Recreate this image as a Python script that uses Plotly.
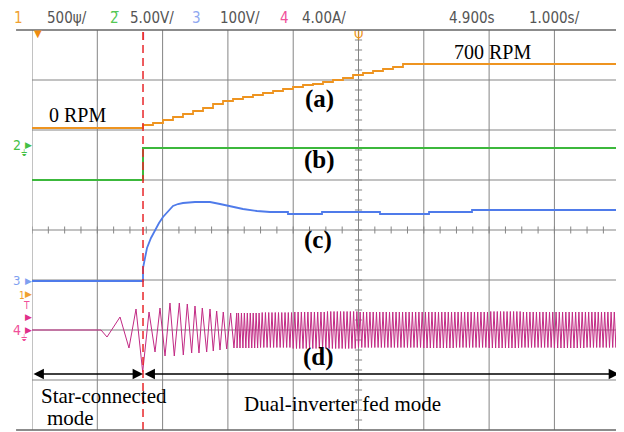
import plotly.graph_objects as go

# ---------------- data (screen divisions; x: 1.000 s/div from left edge) -------------
switch_t = 1.70  # star -> dual-inverter switching instant

speed_t = [0, 1.654, 1.700, 1.853, 2.006, 2.159, 2.312, 2.466, 2.619, 2.772, 2.925, 3.078,
           3.231, 3.384, 3.537, 3.691, 3.844, 3.997, 4.150, 4.303, 4.456, 4.609, 4.762,
           4.916, 5.069, 5.222, 5.375, 5.528, 5.681, 9.035]
speed_v = [6.04, 6.04, 6.10, 6.14, 6.20, 6.26, 6.32, 6.38, 6.44, 6.52, 6.58, 6.62, 6.66,
           6.70, 6.74, 6.78, 6.82, 6.86, 6.90, 6.92, 6.96, 7.00, 7.04, 7.10, 7.14, 7.18,
           7.22, 7.26, 7.32, 7.32]

gate_t = [0, 1.700, 1.700, 9.035]
gate_v = [5.00, 5.00, 5.64, 5.64]

dc_t = [0, 1.700, 1.700, 1.761, 1.822, 1.884, 1.945, 2.006, 2.083, 2.159, 2.236, 2.312,
        2.496, 2.726, 2.879, 3.063, 3.231, 3.445, 3.645, 3.920, 3.920, 4.441, 4.441,
        5.329, 5.329, 6.080, 6.080, 6.738, 6.738, 9.035]
dc_v = [2.98, 2.98, 3.24, 3.64, 3.84, 4.00, 4.14, 4.26, 4.36, 4.48, 4.52, 4.54, 4.56,
        4.56, 4.52, 4.46, 4.42, 4.38, 4.36, 4.36, 4.32, 4.32, 4.36, 4.36, 4.32, 4.32,
        4.36, 4.36, 4.40, 4.40]

cur_t = [0, 1.057, 1.149, 1.348, 1.485, 1.593, 1.695, 1.792, 1.884, 1.960, 2.037, 2.113,
         2.179, 2.256, 2.317, 2.378, 2.445, 2.496, 2.557, 2.608, 2.675, 2.726, 2.776,
         2.828, 2.879, 2.929, 2.981, 3.042, 3.093, 3.135]
cur_v = [2.00, 2.00, 1.86, 2.26, 1.64, 2.42, 1.16, 2.36, 1.56, 2.44, 1.48, 2.54, 1.48,
         2.54, 1.50, 2.52, 1.54, 2.48, 1.54, 2.44, 1.56, 2.42, 1.58, 2.38, 1.60, 2.36,
         1.62, 2.34, 1.64, 2.34]

# steady-state current band: segment edges, upper / lower peaks per segment
band_edges = [3.14, 3.5, 4.0, 4.5, 5.0, 5.5, 6.0, 6.5, 7.0, 7.5, 8.0, 8.5, 9.04]
band_hi = [2.34, 2.35, 2.36, 2.37, 2.36, 2.36, 2.36, 2.36, 2.37, 2.36, 2.36, 2.36]
band_lo = [1.64, 1.65, 1.63, 1.63, 1.65, 1.65, 1.64, 1.65, 1.64, 1.65, 1.64, 1.65]
band_cycles_per_div = 21

header_items = [("1", "#F0A030"), ("500ψ/", "#555555"), ("2\u0305", "#55C855"),
                ("5.00V/", "#555555"), ("3", "#8FA8F0"), ("100V/", "#555555"),
                ("4", "#F0509A"), ("4.00A/", "#555555"), ("4.900s", "#555555"),
                ("1.000s/", "#555555")]

# ---------------- build figure ----------------
X0, X1 = 0, 9.035
YMAX = 8
fig = go.Figure()

# grid
gx, gy = [], []
for k in range(10):
    gx += [k, k, None]
    gy += [0, YMAX, None]
for k in range(1, 8):
    gx += [X0, X1, None]
    gy += [k, k, None]
# centre-line minor ticks
for k in range(int(X1 * 4) + 1):
    x = k / 4
    gx += [x, x, None]
    gy += [4 - 0.07, 4 + 0.07, None]
for k in range(41):
    y = k / 5
    gx += [5 - 0.055, 5 + 0.055, None]
    gy += [y, y, None]
fig.add_trace(go.Scatter(x=gx, y=gy, mode="lines", line=dict(color="#858585", width=1),
                         hoverinfo="skip", showlegend=False))

# steady-state zigzag from the band table
zx, zy = [], []
for i in range(len(band_hi)):
    a, b = band_edges[i], band_edges[i + 1]
    n = max(1, round((b - a) * band_cycles_per_div))
    step = (b - a) / n
    for k in range(n):
        zx += [a + k * step, a + k * step + step / 2]
        zy += [band_lo[i], band_hi[i]]
cx = cur_t + zx
cy = cur_v + zy

fig.add_trace(go.Scatter(x=gate_t, y=gate_v, mode="lines",
                         line=dict(color="#3CB83C", width=2), showlegend=False))
fig.add_trace(go.Scatter(x=speed_t, y=speed_v, mode="lines", line_shape="hv",
                         line=dict(color="#EE9420", width=1.8), showlegend=False))
fig.add_trace(go.Scatter(x=dc_t, y=dc_v, mode="lines",
                         line=dict(color="#4F7BEA", width=1.8), showlegend=False))
fig.add_trace(go.Scatter(x=cx, y=cy, mode="lines",
                         line=dict(color="#C22A84", width=1), showlegend=False))

# red dashed switching line
fig.add_shape(type="line", x0=switch_t, x1=switch_t, y0=0, y1=YMAX, xref="x", yref="y",
              line=dict(color="#E8262A", width=1.5, dash="8px,5px"))
# frame lines top / bottom (extend a little left of the screen)
for yy in (0, 1):
    fig.add_shape(type="line", x0=-0.027, x1=1, y0=yy, y1=yy, xref="paper", yref="paper",
                  line=dict(color="#666666", width=1.5))

ann = []
serif = "Liberation Serif, Times New Roman, serif"
sans = "DejaVu Sans Condensed, Liberation Sans Narrow, Arial, sans-serif"


def txt(x, y, s, size=20, bold=False, color="black", font=serif, xa="center", ref="x"):
    if ref == "paper":
        x, y = x / X1, y / YMAX
        xr, yr = "paper", "paper"
    else:
        xr, yr = "x", "y"
    ann.append(dict(x=x, y=y, xref=xr, yref=yr, text=("<b>%s</b>" % s) if bold else s,
                    showarrow=False, xanchor=xa, yanchor="middle",
                    font=dict(family=font, size=size, color=color)))


txt(0.23, 6.30, "0 RPM", xa="left")
txt(6.43, 7.56, "700 RPM", xa="left")
txt(4.41, 6.63, "(a)", size=25, bold=True)
txt(4.41, 5.40, "(b)", size=25, bold=True)
txt(4.38, 3.80, "(c)", size=25, bold=True)
txt(4.38, 1.46, "(d)", size=25, bold=True)
txt(0.11, 0.68, "Star-connected", size=21, xa="left")
txt(0.20, 0.24, "mode", size=21, xa="left")
txt(3.22, 0.52, "Dual-inverter fed mode", size=21, xa="left")

# header (above the screen)
hx = [-0.31, 0.20, 1.16, 1.47, 2.42, 2.85, 3.77, 4.10, 6.355, 7.58]
for (s, c), x in zip(header_items, hx):
    txt(x, 8.24, s, size=15, color=c, font=sans, xa="left", ref="paper")

# top markers
txt(0.09, 7.93, "▼", size=10, color="#EE8C10", font="DejaVu Sans")
txt(switch_t, 7.88, "I", size=10, color="#E8262A", font="DejaVu Sans")
txt(5.0, 7.88, "Ψ", size=12, color="#EE9420", font="DejaVu Sans")

# left channel markers (outside the screen)
P = "paper"
txt(-0.23, 5.70, "2", size=14, color="#44C044", font=sans, ref=P)
txt(-0.05, 5.70, "▶", size=9, color="#44C044", font="DejaVu Sans", ref=P)
txt(-0.13, 5.55, "⏚", size=9, color="#44C044", font="DejaVu Sans", ref=P)
txt(-0.23, 3.00, "3", size=13, color="#7F9FF0", font=sans, ref=P)
txt(-0.05, 2.98, "▶", size=9, color="#7F9FF0", font="DejaVu Sans", ref=P)
txt(-0.16, 2.70, "1", size=10, color="#F0A030", font=sans, ref=P)
txt(-0.05, 2.72, "▶", size=9, color="#F0A030", font="DejaVu Sans", ref=P)
txt(-0.08, 2.50, "T", size=10, color="#F0509A", font=sans, ref=P)
txt(-0.05, 2.26, "▶", size=9, color="#E0308A", font="DejaVu Sans", ref=P)
txt(-0.23, 2.00, "4", size=14, color="#F0509A", font=sans, ref=P)
txt(-0.05, 2.00, "▶", size=9, color="#E0308A", font="DejaVu Sans", ref=P)
txt(-0.13, 1.84, "⏚", size=9, color="#F0509A", font="DejaVu Sans", ref=P)

# mode arrows
for a, b in ((0.0, switch_t), (switch_t, 8.99)):
    ann.append(dict(x=b, y=1.12, ax=a, ay=1.12, xref="x", yref="y", axref="x", ayref="y",
                    showarrow=True, arrowhead=2, arrowside="end+start", arrowsize=1.3,
                    arrowwidth=1.6, arrowcolor="black", text=""))

# the page body adds an 8 px offset, so the figure is 8 px smaller than the window
fig.update_layout(
    width=616, height=424,
    margin=dict(l=24, r=2, t=22, b=2),
    paper_bgcolor="white", plot_bgcolor="white",
    annotations=ann,
    xaxis=dict(range=[X0, X1], showgrid=False, showticklabels=False, zeroline=False,
               ticks="", fixedrange=True),
    yaxis=dict(range=[0, YMAX], showgrid=False, showticklabels=False, zeroline=False,
               ticks="", fixedrange=True),
)
fig.write_html("out.html")
